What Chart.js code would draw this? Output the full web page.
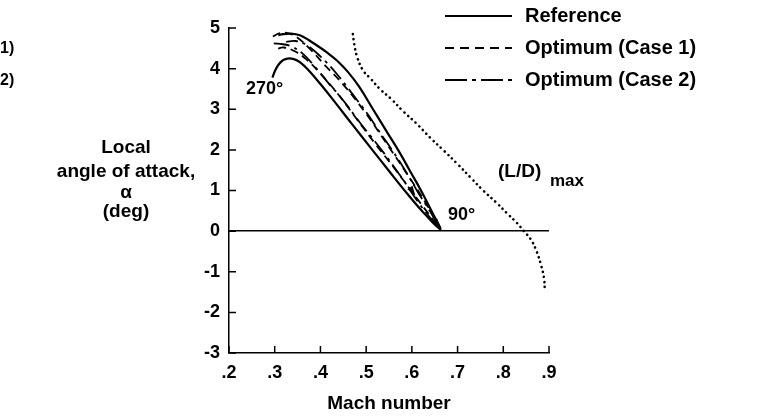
<!DOCTYPE html>
<html>
<head>
<meta charset="utf-8">
<script src="https://cdn.jsdelivr.net/npm/chart.js@4.4.1/dist/chart.umd.min.js"></script>
<style>
  html, body { margin: 0; padding: 0; background: #fff; }
  #wrap { width: 757px; height: 420px; position: relative; }
</style>
</head>
<body>
<div id="wrap"><canvas id="chart"></canvas></div>
<script>
const xTicks = [0.2, 0.3, 0.4, 0.5, 0.6, 0.7, 0.8, 0.9]
const yTicks = [-3, -2, -1, 0, 1, 2, 3, 4, 5]

// Reference loop: 270 deg end -> lower branch -> 90 deg -> upper branch
const refMach = [0.295, 0.303, 0.313, 0.325, 0.340, 0.355, 0.375, 0.400, 0.430, 0.470, 0.510, 0.550, 0.590, 0.630, 0.662,
  0.645, 0.620, 0.595, 0.574, 0.545, 0.515, 0.485, 0.460, 0.436, 0.414, 0.395, 0.375, 0.355, 0.335, 0.318, 0.308]
const refAlpha = [3.78, 4.00, 4.16, 4.24, 4.24, 4.16, 3.95, 3.62, 3.20, 2.62, 2.05, 1.48, 0.92, 0.40, 0.05,
  0.45, 1.00, 1.50, 1.92, 2.45, 3.00, 3.55, 3.92, 4.20, 4.40, 4.55, 4.70, 4.82, 4.86, 4.85, 4.82]

const case1Mach = [0.296, 0.310, 0.330, 0.350, 0.380, 0.410, 0.449, 0.498, 0.545, 0.590, 0.630, 0.662,
  0.645, 0.610, 0.565, 0.520, 0.478, 0.440, 0.400, 0.370, 0.345, 0.320, 0.303]
const case1Alpha = [4.79, 4.87, 4.87, 4.76, 4.45, 4.08, 3.62, 2.92, 2.15, 1.40, 0.70, 0.05,
  0.30, 0.82, 1.50, 2.15, 2.78, 3.35, 3.88, 4.22, 4.42, 4.52, 4.48]

const case2Mach = [0.298, 0.318, 0.336, 0.360, 0.390, 0.417, 0.447, 0.490, 0.537, 0.580, 0.620, 0.662,
  0.640, 0.610, 0.585, 0.557, 0.530, 0.502, 0.469, 0.435, 0.400, 0.370, 0.345, 0.325]
const case2Alpha = [4.62, 4.60, 4.55, 4.38, 4.02, 3.65, 3.26, 2.62, 1.95, 1.28, 0.62, 0.05,
  0.48, 1.02, 1.50, 1.99, 2.43, 2.90, 3.39, 3.88, 4.30, 4.58, 4.68, 4.66]

const ldMach = [0.471, 0.474, 0.480, 0.493, 0.510, 0.530, 0.555, 0.581, 0.610, 0.640, 0.670, 0.700, 0.730,
  0.756, 0.785, 0.808, 0.830, 0.845, 0.860, 0.873, 0.883, 0.889, 0.891]
const ldAlpha = [4.85, 4.60, 4.30, 3.96, 3.75, 3.50, 3.25, 2.95, 2.65, 2.30, 1.98, 1.65, 1.30,
  1.00, 0.70, 0.44, 0.20, 0.00, -0.20, -0.50, -0.85, -1.15, -1.45]

// small flow-direction arrowheads on the inner curves
const arrowMach = [0.603, 0.657]
const arrowAlpha = [0.95, 0.15]

const legendLabels = ["Reference", "Optimum (Case 1)", "Optimum (Case 2)"]

const FONT = "'Liberation Sans', Arial, Helvetica, sans-serif"

function pts(xs, ys) {
  return xs.map((x, i) => ({ x: x, y: ys[i] }))
}

function fmtMach(v) {
  return String(Math.round(v * 10) / 10).replace(/^0/, "")
}

const axisMarks = {
  id: "axisMarks",
  afterDraw(chart) {
    const { ctx, scales: { x, y }, chartArea } = chart
    ctx.save()
    ctx.strokeStyle = "#000"
    ctx.fillStyle = "#000"
    ctx.lineWidth = 1.5
    ctx.beginPath()
    xTicks.forEach(v => {
      const px = x.getPixelForValue(v)
      ctx.moveTo(px, chartArea.bottom)
      ctx.lineTo(px, chartArea.bottom - 7)
    })
    yTicks.forEach(v => {
      const py = y.getPixelForValue(v)
      ctx.moveTo(chartArea.left, py)
      ctx.lineTo(chartArea.left + 7, py)
    })
    ctx.stroke()

    // arrowheads pointing down the curve toward the 90 deg point
    arrowMach.forEach((m, i) => {
      const px = x.getPixelForValue(m)
      const py = y.getPixelForValue(arrowAlpha[i])
      const ang = Math.atan2(y.getPixelForValue(-0.85) - y.getPixelForValue(0), x.getPixelForValue(0.25) - x.getPixelForValue(0.2))
      ctx.save()
      ctx.translate(px, py)
      ctx.rotate(ang)
      ctx.beginPath()
      ctx.moveTo(4, 0)
      ctx.lineTo(-6, -3)
      ctx.lineTo(-6, 3)
      ctx.closePath()
      ctx.fill()
      ctx.restore()
    })

    // y axis title
    ctx.textAlign = "center"
    ctx.textBaseline = "middle"
    ctx.font = "bold 19px " + FONT
    const cx = 126
    ctx.fillText("Local", cx, 148)
    ctx.fillText("angle of attack,", cx, 172)
    ctx.fillText("\u03b1", cx, 193)
    ctx.fillText("(deg)", cx, 212)

    // annotations
    ctx.font = "bold 18px " + FONT
    ctx.textAlign = "left"
    ctx.fillText("270\u00b0", 246, 89)
    ctx.fillText("90\u00b0", 448, 215)
    ctx.font = "bold 19px " + FONT
    ctx.fillText("(L/D)", 498, 172)
    ctx.font = "bold 17px " + FONT
    ctx.fillText("max", 550, 181)

    // cut-off labels at the left edge
    ctx.font = "bold 16px " + FONT
    ctx.fillText("1)", 0, 49)
    ctx.fillText("2)", 0, 81)

    // legend
    const rows = [16, 48, 80]
    const legendDash = [[], [9, 6], [22, 5, 4, 5]]
    chart.data.datasets.slice(0, 3).forEach((ds, i) => {
      ctx.beginPath()
      ctx.setLineDash(legendDash[i])
      ctx.lineWidth = ds.borderWidth
      ctx.moveTo(445, rows[i])
      ctx.lineTo(512, rows[i])
      ctx.stroke()
      ctx.setLineDash([])
      ctx.font = "bold 20px " + FONT
      ctx.fillText(legendLabels[i], 525, rows[i])
    })
    ctx.restore()
  }
}

new Chart(document.getElementById("chart"), {
  type: "scatter",
  data: {
    datasets: [
      { label: legendLabels[0], data: pts(refMach, refAlpha), borderWidth: 2.2, borderDash: [] },
      { label: legendLabels[1], data: pts(case1Mach, case1Alpha), borderWidth: 1.8, borderDash: [8, 5] },
      { label: legendLabels[2], data: pts(case2Mach, case2Alpha), borderWidth: 1.8, borderDash: [16, 5, 3, 5] },
      { label: "(L/D)max", data: pts(ldMach, ldAlpha), borderWidth: 2.6, borderDash: [0.1, 5], borderCapStyle: "round" }
    ].map(ds => ({
      ...ds,
      showLine: true,
      tension: 0.4,
      borderColor: "#000",
      backgroundColor: "#000",
      pointRadius: 0,
      fill: false
    }))
  },
  options: {
    responsive: true,
    maintainAspectRatio: false,
    animation: false,
    devicePixelRatio: 1,
    layout: { padding: { top: 28, right: 208, left: 0, bottom: 0 } },
    plugins: {
      legend: { display: false },
      tooltip: { enabled: false }
    },
    scales: {
      x: {
        type: "linear",
        min: 0.2,
        max: 0.9,
        afterBuildTicks: s => { s.ticks = xTicks.map(v => ({ value: v })) },
        afterFit: s => { s.height = 67 },
        ticks: {
          color: "#000",
          padding: 9,
          maxRotation: 0,
          font: { family: FONT, size: 18, weight: "bold" },
          callback: v => fmtMach(v)
        },
        grid: { display: false, drawTicks: false },
        border: { display: true, color: "#000", width: 1.5 },
        title: {
          display: true,
          text: "Mach number",
          color: "#000",
          font: { family: FONT, size: 19, weight: "bold" },
          padding: { top: 0, bottom: 5 }
        }
      },
      y: {
        min: -3,
        max: 5,
        afterBuildTicks: s => { s.ticks = yTicks.map(v => ({ value: v })) },
        afterFit: s => { s.width = 229 },
        ticks: {
          color: "#000",
          padding: 9,
          font: { family: FONT, size: 18, weight: "bold" }
        },
        grid: {
          drawTicks: false,
          drawOnChartArea: true,
          lineWidth: 1.5,
          color: c => (c.tick && c.tick.value === 0 ? "#000" : "rgba(0,0,0,0)")
        },
        border: { display: true, color: "#000", width: 1.5 }
      }
    }
  },
  plugins: [axisMarks]
})
</script>
</body>
</html>
